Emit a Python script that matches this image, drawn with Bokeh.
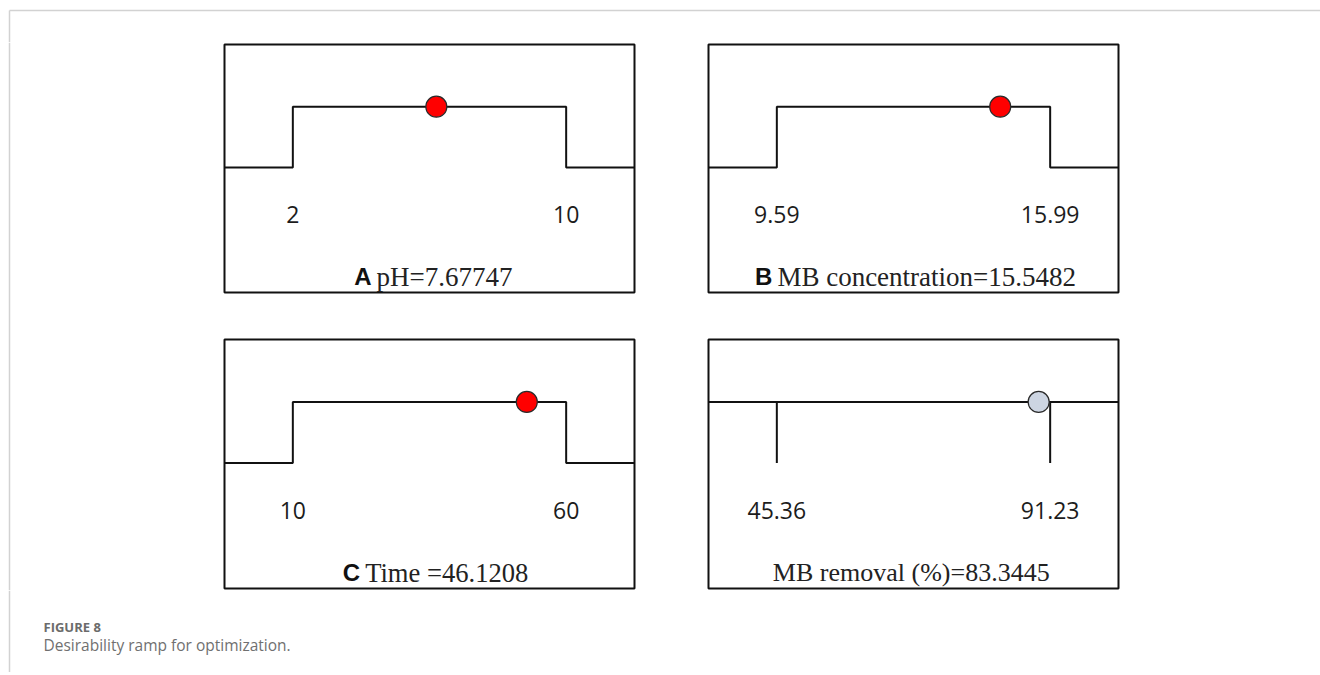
from bokeh.plotting import figure
from bokeh.layouts import row, column, Spacer
from bokeh.core.properties import value
from bokeh.embed import file_html
from bokeh.resources import INLINE

# ---------------- data ----------------
panel_letters = ["A", "B", "C", ""]
panel_titles = ["pH=7.67747", "MB concentration=15.5482", "Time =46.1208", "MB removal (%)=83.3445"]
low_limits = [2, 9.59, 10, 45.36]
high_limits = [10, 15.99, 60, 91.23]
low_labels = ["2", "9.59", "10", "45.36"]
high_labels = ["10", "15.99", "60", "91.23"]
marker_positions = [6.2, 14.82, 52.8, 89.3]      # where the dot is drawn on each ramp
is_response = [False, False, False, True]
desirability_low = 0
desirability_high = 1
caption_label = "FIGURE 8"
caption_text = "Desirability ramp for optimization."

# ---------------- styles / layout ----------------
marker_fill = ["#ff0000", "#ff0000", "#ff0000", "#cdd5e2"]
title_left_frac = [0.371, 0.168, 0.343, 0.157]   # left edge of serif title within the box
title_sizes = ["27px", "27px", "26.6px", "26px"]
LINE = "#111111"
FRAME_GRAY = "#d2d2d2"
PAGE_W = 1320


def base_fig(w, h, xr, yr, border=0):
    p = figure(width=w, height=h, x_range=xr, y_range=yr,
               x_axis_type=None, y_axis_type=None,
               toolbar_location=None, output_backend="svg",
               min_border=border, background_fill_color="white",
               border_fill_color="white", outline_line_color=None)
    p.grid.visible = False
    return p


def panel(i, frame_h):
    lo, hi = low_limits[i], high_limits[i]
    span = hi - lo
    x0, x1 = lo - 0.25 * span, hi + 0.25 * span
    p = base_fig(414, frame_h + 4, (x0, x1), (-2.05, 2.02), border=2)
    p.outline_line_color = LINE
    p.outline_line_width = 2
    if not is_response[i]:
        p.line(x=[x0, lo, lo, hi, hi, x1],
               y=[desirability_low, desirability_low, desirability_high,
                  desirability_high, desirability_low, desirability_low],
               line_color=LINE, line_width=2)
    else:
        p.line(x=[x0, x1], y=[desirability_high, desirability_high],
               line_color=LINE, line_width=2)
        p.segment(x0=[lo, hi], y0=[desirability_high] * 2, x1=[lo, hi],
                  y1=[desirability_low] * 2, line_color=LINE, line_width=2)
    p.scatter(x=[marker_positions[i]], y=[desirability_high], size=21,
              fill_color=marker_fill[i], line_color="#2a2a2a", line_width=1.2)
    p.text(x=[lo, hi], y=[-0.77, -0.77], text=[low_labels[i], high_labels[i]],
           text_align="center", text_baseline="alphabetic",
           text_font=value("Open Sans"), text_font_size="23px", text_color="#1c1c1c")
    tx = x0 + title_left_frac[i] * (x1 - x0)
    p.text(x=[tx], y=[-1.79], text=[panel_titles[i]], text_align="left",
           text_baseline="alphabetic", text_font=value("Liberation Serif"),
           text_font_size=title_sizes[i], text_color="#222222")
    if panel_letters[i]:
        gap = 5.0 / 410 * (x1 - x0)
        p.text(x=[tx - gap], y=[-1.79], text=[panel_letters[i]], text_align="right",
               text_baseline="alphabetic", text_font=value("Liberation Sans"),
               text_font_style="bold", text_font_size="24px", text_color="#111111")
    return p


# page frame (top rule + left rule)
top = base_fig(PAGE_W, 42, (0, PAGE_W), (42, 0))
top.line(x=[9, PAGE_W], y=[10, 10], line_color=FRAME_GRAY, line_width=1.5)
top.line(x=[9, 9], y=[10, 42], line_color=FRAME_GRAY, line_width=1.5)

left = base_fig(222, 548, (0, 222), (548, 0))
left.line(x=[9, 9], y=[0, 548], line_color=FRAME_GRAY, line_width=1.5)

pA = panel(0, 248)
pB = panel(1, 248)
pC = panel(2, 249)
pD = panel(3, 249)

cap = base_fig(PAGE_W, 82, (0, PAGE_W), (82, 0))
cap.line(x=[9, 9], y=[0, 82], line_color=FRAME_GRAY, line_width=1.5)
cap.text(x=[43], y=[36.7], text=[caption_label], text_baseline="alphabetic",
         text_font=value("Open Sans"), text_font_style="bold",
         text_font_size="13px", text_color="#6b6b6b")
cap.text(x=[43], y=[54.5], text=[caption_text], text_baseline="alphabetic",
         text_font=value("Open Sans"), text_font_size="15.5px", text_color="#707070")

middle = row(left,
             column(pA, Spacer(width=414, height=43), pC),
             Spacer(width=70, height=548),
             column(pB, Spacer(width=414, height=43), pD),
             Spacer(width=PAGE_W - 222 - 414 - 70 - 414, height=548))
layout = column(top, middle, cap)

open("out.html", "w").write(file_html(layout, INLINE))
